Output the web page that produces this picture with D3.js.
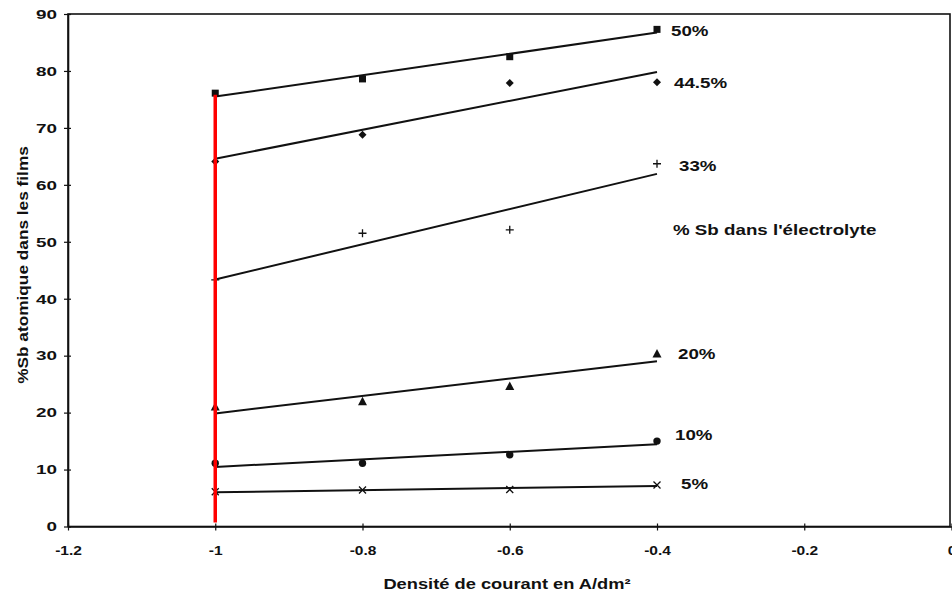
<!DOCTYPE html>
<html><head><meta charset="utf-8">
<script src="https://cdn.jsdelivr.net/npm/d3@7"></script>
<style>
html,body{margin:0;padding:0;background:#fff;}
text{font-family:"Liberation Sans",Arial,sans-serif;font-weight:bold;fill:#111;}
</style></head>
<body>
<svg id="chart" width="952" height="596"></svg>
<script>
// ---- data ----
const currentDensity = [-1, -0.8, -0.6, -0.4];
const seriesNames = ["50%", "44.5%", "33%", "20%", "10%", "5%"];
const seriesMarkers = ["square", "diamond", "plus", "triangle", "circle", "cross"];
const s50   = [76.1, 78.6, 82.5, 87.3];
const s44_5 = [64.1, 68.8, 77.9, 78.0];
const s33   = [43.3, 51.5, 52.1, 63.7];
const s20   = [21.0, 21.9, 24.6, 30.3];
const s10   = [11.1, 11.1, 12.6, 15.0];
const s5    = [6.1, 6.4, 6.5, 7.3];
const seriesValues = [s50, s44_5, s33, s20, s10, s5];
const xTicks = [-1.2, -1, -0.8, -0.6, -0.4, -0.2, 0];
const xTickLabels = ["-1.2", "-1", "-0.8", "-0.6", "-0.4", "-0.2", "0"];
const yTicks = [0, 10, 20, 30, 40, 50, 60, 70, 80, 90];
const redLineX = -1;
const redLineTop = 75.8;
const legendTitle = "% Sb dans l'électrolyte";
const legendTitleY = 52.1;
const xTitle = "Densité de courant en A/dm²";
const yTitle = "%Sb atomique dans les films";

// ---- layout ----
const svg = d3.select("#chart");
const L = 68, R = 950, T = 14, B = 526.5;
const x = d3.scaleLinear().domain([-1.2, 0]).range([L, 951.5]);
const y = d3.scaleLinear().domain([0, 90]).range([B, T]);
const ink = "#111";

// frame
svg.append("rect").attr("x", L).attr("y", T).attr("width", R - L).attr("height", B - T)
  .attr("fill", "none").attr("stroke", ink).attr("stroke-width", 1.6);

// helper: horizontally stretched text
function sText(px, py, str, size, sx, anchor, rot) {
  return svg.append("text")
    .attr("transform", `translate(${px},${py})` + (rot ? ` rotate(${rot})` : "") + ` scale(${sx},1)`)
    .attr("text-anchor", anchor || "start").style("font-size", size + "px").text(str);
}

// axes
const yAxis = svg.append("g").attr("transform", `translate(${L},0)`)
  .call(d3.axisLeft(y).tickValues(yTicks).tickSizeInner(4).tickSizeOuter(0).tickPadding(7));
const xAxis = svg.append("g").attr("transform", `translate(0,${B})`)
  .call(d3.axisBottom(x).tickValues(xTicks).tickFormat((d, i) => xTickLabels[i]).tickSizeInner(4).tickSizeOuter(0).tickPadding(15));
[yAxis, xAxis].forEach(g => {
  g.select(".domain").attr("stroke", ink).attr("stroke-width", 1.6);
  g.selectAll(".tick line").attr("stroke", ink).attr("stroke-width", 1.2);
  g.selectAll(".tick text").style("font-size", "13.5px").attr("fill", ink)
    .style("font-family", '"Liberation Sans",Arial,sans-serif').style("font-weight", "bold");
});
const ySx = 1.4, xSx = 1.15;
yAxis.selectAll(".tick text").attr("x", -11 / ySx).attr("transform", `scale(${ySx},1)`);
xAxis.selectAll(".tick text").attr("transform", `scale(${xSx},1)`);
// ticks cross the axes slightly
yAxis.selectAll(".tick line").attr("x1", 3);
xAxis.selectAll(".tick line").attr("y1", -3);

// axis titles
sText(507, 589, xTitle, 15, 1.22, "middle");
sText(28, 265, yTitle, 15, 1.15, "middle", -90);

// regression lines
function fit(xs, ys) {
  const mx = d3.mean(xs), my = d3.mean(ys);
  let sxy = 0, sxx = 0;
  xs.forEach((xv, i) => { sxy += (xv - mx) * (ys[i] - my); sxx += (xv - mx) * (xv - mx); });
  const b = sxy / sxx;
  return xv => my + b * (xv - mx);
}
const x0 = d3.min(currentDensity), x1 = d3.max(currentDensity);
seriesValues.forEach(vals => {
  const f = fit(currentDensity, vals);
  svg.append("line").attr("x1", x(x0)).attr("y1", y(f(x0))).attr("x2", x(x1)).attr("y2", y(f(x1)))
    .attr("stroke", ink).attr("stroke-width", 2);
});

// markers
function marker(g, type, cx, cy) {
  if (type === "square") g.append("rect").attr("x", cx - 3.5).attr("y", cy - 3.5).attr("width", 7).attr("height", 7).attr("fill", ink);
  else if (type === "diamond") g.append("path").attr("d", `M${cx},${cy-4}L${cx+4},${cy}L${cx},${cy+4}L${cx-4},${cy}Z`).attr("fill", ink);
  else if (type === "plus") g.append("path").attr("d", `M${cx-4},${cy}H${cx+4}M${cx},${cy-4}V${cy+4}`).attr("stroke", ink).attr("stroke-width", 1.3);
  else if (type === "triangle") g.append("path").attr("d", `M${cx},${cy-5}L${cx+4.5},${cy+3.5}L${cx-4.5},${cy+3.5}Z`).attr("fill", ink);
  else if (type === "circle") g.append("circle").attr("cx", cx).attr("cy", cy).attr("r", 3.7).attr("fill", ink);
  else if (type === "cross") g.append("path").attr("d", `M${cx-3.5},${cy-3.5}L${cx+3.5},${cy+3.5}M${cx+3.5},${cy-3.5}L${cx-3.5},${cy+3.5}`).attr("stroke", ink).attr("stroke-width", 1.3);
}
const mg = svg.append("g");
seriesValues.forEach((vals, si) => {
  vals.forEach((v, i) => marker(mg, seriesMarkers[si], x(currentDensity[i]), y(v)));
});

// red vertical line
svg.append("line").attr("x1", x(redLineX)).attr("x2", x(redLineX)).attr("y1", y(0) - 4).attr("y2", y(redLineTop))
  .attr("stroke", "#ff0000").attr("stroke-width", 3.5);

// series labels
const labelDx = [14, 17, 22, 21, 18, 24];
const labelDy = [1.5, 0, 2, 0, -6, -1];
seriesValues.forEach((vals, si) => {
  sText(x(x1) + labelDx[si], y(vals[vals.length - 1]) + labelDy[si] + 5.3, seriesNames[si], 15, 1.25);
});
sText(x(x1) + 16, y(legendTitleY) + 5.3, legendTitle, 15, 1.25);
</script>
</body></html>
